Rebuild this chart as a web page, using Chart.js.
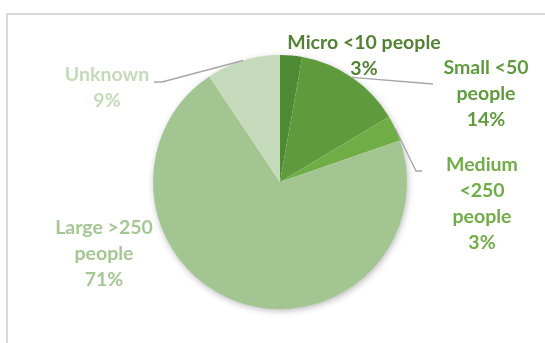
<!DOCTYPE html>
<html>
<head>
<meta charset="utf-8">
<script src="https://cdn.jsdelivr.net/npm/chart.js@4/dist/chart.umd.min.js"></script>
<style>
  html, body { margin: 0; padding: 0; background: #ffffff; }
  #wrap { position: relative; width: 545px; height: 343px; }
</style>
</head>
<body>
<div id="wrap"><canvas id="pie" width="545" height="343"></canvas></div>
<script>
"use strict";

/* ── Data ─────────────────────────────────────────────── */
const categories = ["Micro <10 people", "Small <50 people", "Medium <250 people", "Large >250 people", "Unknown"];
const shares     = [2.8, 13.6, 3.3, 70.9, 9.4];
const sliceColors = ["#4f8a35", "#5f9a3d", "#70ad47", "#a2c592", "#c5d9bb"];
const textColors  = ["#548235", "#5f9b3e", "#70ad47", "#a5c794", "#c5dab9"];

// category text wrapped as in the original; percentage line is added from shares
const labelLines = [
  ["Micro <10 people"],
  ["Small <50", "people"],
  ["Medium", "<250", "people"],
  ["Large >250", "people"],
  ["Unknown"],
];

/* ── Label placement (centre of first line, leader end) ─ */
const labelPos = [
  { x: 364, y: 43,  leader: null },
  { x: 486, y: 68,  leader: [[433, 84]] },
  { x: 482, y: 165, leader: [[416, 171], [422, 171]] },
  { x: 104, y: 228, leader: null },
  { x: 107, y: 75,  leader: [[162, 82], [154, 82]] },
];
const LINE_H = 26;

/* ── Frame + shadow + labels plugin ───────────────────── */
const decor = {
  id: "decor",
  beforeDraw(chart) {
    const ctx = chart.ctx;
    ctx.save();
    ctx.strokeStyle = "#d9d9d9";
    ctx.lineWidth = 2;
    ctx.beginPath();
    ctx.moveTo(7, 343);
    ctx.lineTo(7, 14);
    ctx.lineTo(545, 14);
    ctx.stroke();
    ctx.restore();
  },
  beforeDatasetsDraw(chart) {
    const arc = chart.getDatasetMeta(0).data[0];
    if (!arc) return;
    const ctx = chart.ctx;
    ctx.save();
    ctx.shadowColor = "rgba(0,0,0,0.30)";
    ctx.shadowBlur = 7;
    ctx.shadowOffsetX = 1;
    ctx.shadowOffsetY = 2;
    ctx.fillStyle = "#ffffff";
    ctx.beginPath();
    ctx.arc(arc.x, arc.y, arc.outerRadius - 0.5, 0, Math.PI * 2);
    ctx.fill();
    ctx.restore();
  },
  afterDatasetsDraw(chart) {
    const ctx = chart.ctx;
    const arcs = chart.getDatasetMeta(0).data;
    const total = shares.reduce((s, v) => s + v, 0);
    ctx.save();
    arcs.forEach((a, i) => {
      const p = labelPos[i];
      if (p.leader) {
        const mid = (a.startAngle + a.endAngle) / 2;
        ctx.strokeStyle = "#a6a6a6";
        ctx.lineWidth = 1.3;
        ctx.beginPath();
        ctx.moveTo(a.x + Math.cos(mid) * a.outerRadius, a.y + Math.sin(mid) * a.outerRadius);
        p.leader.forEach(([lx, ly]) => ctx.lineTo(lx, ly));
        ctx.stroke();
      }
      const lines = labelLines[i].concat([Math.round(shares[i] / total * 100) + "%"]);
      ctx.fillStyle = textColors[i];
      ctx.font = "bold 19.5px Lato, 'Open Sans', sans-serif";
      ctx.textAlign = "center";
      ctx.textBaseline = "middle";
      lines.forEach((t, k) => ctx.fillText(t, p.x, p.y + k * LINE_H));
    });
    ctx.restore();
  },
};

/* ── Chart ────────────────────────────────────────────── */
new Chart(document.getElementById("pie"), {
  type: "pie",
  data: {
    labels: categories,
    datasets: [{
      data: shares,
      backgroundColor: sliceColors,
      borderWidth: 0,
    }],
  },
  options: {
    responsive: false,
    animation: false,
    layout: { padding: { left: 153, right: 138, top: 55, bottom: 34 } },
    plugins: {
      legend: { display: false },
      tooltip: { enabled: false },
    },
  },
  plugins: [decor],
});
</script>
</body>
</html>
